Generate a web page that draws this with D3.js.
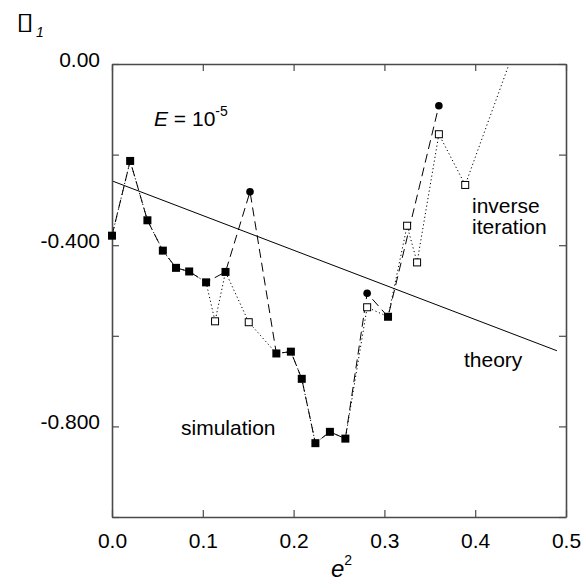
<!DOCTYPE html>
<html>
<head>
<meta charset="utf-8">
<script src="https://cdn.jsdelivr.net/npm/d3@7"></script>
<style>
  html, body { margin: 0; padding: 0; background: #fff; }
  svg { display: block; font-family: "Liberation Sans", Arial, Helvetica, sans-serif; }
</style>
</head>
<body>
<svg id="chart" width="586" height="588"></svg>
<script>
// Growth rate σ1 against e² at E = 1e-5.
// Points where simulation and inverse iteration agree (filled squares)
const sharedPts = [
  [0.000, -0.379], [0.020, -0.214], [0.039, -0.345], [0.056, -0.412],
  [0.0705, -0.450], [0.085, -0.458], [0.1036, -0.482], [0.125, -0.459],
  [0.181, -0.639], [0.197, -0.635], [0.209, -0.695], [0.224, -0.837],
  [0.240, -0.812], [0.257, -0.827], [0.304, -0.558]
];
// Simulation-only values (filled circles)
const simulationPts = [
  [0.152, -0.282], [0.281, -0.506], [0.360, -0.092]
];
// Inverse-iteration-only values (open squares)
const inversePts = [
  [0.1135, -0.568], [0.1506, -0.570], [0.281, -0.537], [0.325, -0.357],
  [0.336, -0.438], [0.360, -0.155], [0.389, -0.267], [0.450, 0.070]
];
// Theoretical prediction (straight line)
const theoryPts = [[0.0, -0.258], [0.49, -0.633]];

const xTicks = [0.0, 0.1, 0.2, 0.3, 0.4, 0.5];
const xTickLabels = ["0.0", "0.1", "0.2", "0.3", "0.4", "0.5"];
const yTicks = [0, -0.2, -0.4, -0.6, -0.8, -1.0];
const yTickLabels = {"0": "0.00", "-0.4": "-0.400", "-0.8": "-0.800"};

const svg = d3.select("#chart");
const mLeft = 112, mRight = 566, mTop = 64, mBottom = 517;
const fontSize = 21;

const x = d3.scaleLinear().domain([0, 0.5]).range([mLeft, mRight]);
const y = d3.scaleLinear().domain([-1, 0]).range([mBottom, mTop]);

const byX = (a, b) => a[0] - b[0];
const simLine = sharedPts.concat(simulationPts).sort(byX);
const invLine = sharedPts.concat(inversePts).sort(byX);

svg.append("clipPath").attr("id", "plotClip")
  .append("rect").attr("x", mLeft).attr("y", mTop)
  .attr("width", mRight - mLeft).attr("height", mBottom - mTop);

const line = d3.line().x(d => x(d[0])).y(d => y(d[1]));
const plot = svg.append("g").attr("clip-path", "url(#plotClip)");

plot.append("path").attr("d", line(theoryPts))
  .attr("fill", "none").attr("stroke", "#000").attr("stroke-width", 1);
plot.append("path").attr("d", line(invLine))
  .attr("fill", "none").attr("stroke", "#000").attr("stroke-width", 1)
  .attr("stroke-dasharray", "1.2,2.6");
plot.append("path").attr("d", line(simLine))
  .attr("fill", "none").attr("stroke", "#000").attr("stroke-width", 1)
  .attr("stroke-dasharray", "9,5");

// Frame with inward ticks on every side
const frameColor = "#4a4a4a";
const axisStyle = g => {
  g.select(".domain").attr("stroke", frameColor).attr("stroke-width", 1.6);
  g.selectAll(".tick line").attr("stroke", frameColor).attr("stroke-width", 1.2);
};
const labelStyle = g => g.selectAll("text").attr("font-size", fontSize).attr("fill", "#000")
  .attr("font-family", "Liberation Sans, Arial, sans-serif");

svg.append("g").attr("transform", `translate(0,${mBottom})`)
  .call(d3.axisBottom(x).tickValues(xTicks).tickSizeInner(-7).tickSizeOuter(0)
    .tickPadding(16).tickFormat((d, i) => xTickLabels[i]))
  .call(axisStyle).call(labelStyle);
svg.append("g").attr("transform", `translate(0,${mTop})`)
  .call(d3.axisTop(x).tickValues(xTicks).tickSizeInner(-7).tickSizeOuter(0).tickFormat(""))
  .call(axisStyle);
svg.append("g").attr("transform", `translate(${mLeft},0)`)
  .call(d3.axisLeft(y).tickValues(yTicks).tickSizeInner(-7).tickSizeOuter(0)
    .tickPadding(12).tickFormat(d => yTickLabels[String(+d.toFixed(1))] || ""))
  .call(axisStyle).call(labelStyle)
  .call(g => g.selectAll("text").attr("dy", "0.1em"));
svg.append("g").attr("transform", `translate(${mRight},0)`)
  .call(d3.axisRight(y).tickValues(yTicks).tickSizeInner(-7).tickSizeOuter(0).tickFormat(""))
  .call(axisStyle);

// Markers
const inDomain = d => d[1] <= 0 && d[1] >= -1;
svg.append("g").selectAll("rect").data(inversePts.filter(inDomain)).join("rect")
  .attr("x", d => x(d[0]) - 3.5).attr("y", d => y(d[1]) - 3.5)
  .attr("width", 7).attr("height", 7)
  .attr("fill", "#fff").attr("stroke", "#000").attr("stroke-width", 1);
svg.append("g").selectAll("rect").data(sharedPts).join("rect")
  .attr("x", d => x(d[0]) - 4).attr("y", d => y(d[1]) - 4)
  .attr("width", 8).attr("height", 8).attr("fill", "#000");
svg.append("g").selectAll("circle").data(simulationPts).join("circle")
  .attr("cx", d => x(d[0])).attr("cy", d => y(d[1])).attr("r", 3.8).attr("fill", "#000");

// Annotations
const txt = (xp, yp, s) => svg.append("text").attr("x", xp).attr("y", yp)
  .attr("font-size", fontSize).attr("fill", "#000").text(s);
const eq = svg.append("text").attr("x", 154).attr("y", 126).attr("font-size", fontSize);
eq.append("tspan").attr("font-style", "italic").text("E");
eq.append("tspan").text(" = 10");
eq.append("tspan").attr("font-size", 14).attr("dy", -10).text("-5");

txt(181, 435, "simulation");
txt(464, 367, "theory");
txt(472, 213, "inverse");
txt(472, 234, "iteration");

// Axis titles
const xl = svg.append("text").attr("x", 331).attr("y", 577).attr("font-size", 24);
xl.append("tspan").attr("font-style", "italic").text("e");
xl.append("tspan").attr("font-size", 14).attr("dy", -12).text("2");

const yl = svg.append("g").attr("transform", "translate(16,29) scale(1.45,1)");
yl.append("text").attr("font-size", 23).attr("font-style", "italic")
  .attr("font-family", "DejaVu Sans, sans-serif").text("\u25AF");
svg.append("text").attr("x", 36).attr("y", 37).attr("font-size", 14)
  .attr("font-style", "italic").text("1");
</script>
</body>
</html>
